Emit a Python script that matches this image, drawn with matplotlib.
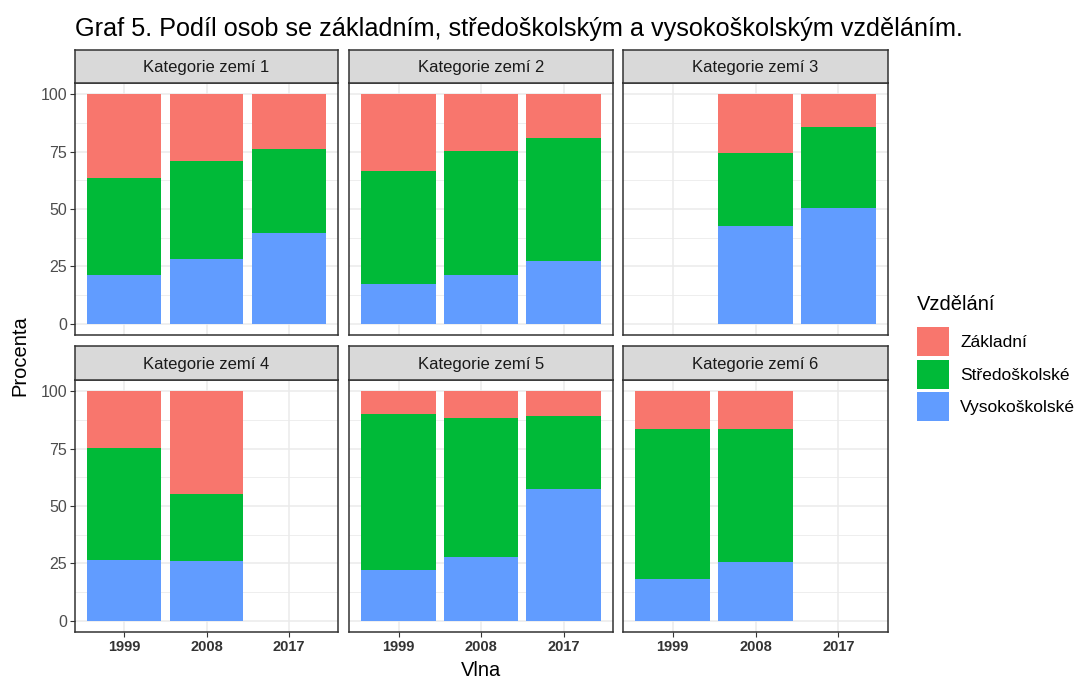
import numpy as np
import matplotlib
matplotlib.use("Agg")
import matplotlib.pyplot as plt
from matplotlib.patches import Patch

# Graf 5 - podíl vzdělání podle kategorie zemí a vlny

vlny = ['1999', '2008', '2017']
kategorie = ['Kategorie zemí 1', 'Kategorie zemí 2', 'Kategorie zemí 3',
             'Kategorie zemí 4', 'Kategorie zemí 5', 'Kategorie zemí 6']
urovne = ['Základní', 'Středoškolské', 'Vysokoškolské']

# procenta, nan = vlna chybí
vysokoskolske = [
    [21.4, 28.3, 39.6],
    [17.2, 21.0, 27.2],
    [np.nan, 42.6, 50.6],
    [26.6, 26.0, np.nan],
    [22.2, 27.8, 57.6],
    [18.0, 25.4, np.nan],
]
stredoskolske = [
    [42.1, 42.7, 36.8],
    [49.3, 54.4, 53.7],
    [np.nan, 32.0, 35.1],
    [48.8, 29.1, np.nan],
    [68.1, 60.7, 31.8],
    [65.4, 58.0, np.nan],
]
zakladni = [
    [36.5, 29.0, 23.6],
    [33.5, 24.6, 19.1],
    [np.nan, 25.4, 14.3],
    [24.6, 44.9, np.nan],
    [9.7, 11.5, 10.6],
    [16.6, 16.6, np.nan],
]

barvy = {'Základní': '#F8766D', 'Středoškolské': '#00BA38', 'Vysokoškolské': '#619CFF'}

plt.rcParams['font.family'] = ['Liberation Sans', 'DejaVu Sans']

W, H = 1078, 680
fig = plt.figure(figsize=(W / 100, H / 100), dpi=100)


def _px(x0, y0, x1, y1):
    return [x0 / W, 1 - y1 / H, (x1 - x0) / W, (y1 - y0) / H]


sloupce = [(75, 338), (349, 613), (623, 888)]
radky = [(50, 83, 335), (346, 380, 632)]

x = np.arange(1, len(vlny) + 1)
for i, nazev in enumerate(kategorie):
    r, c = divmod(i, 3)
    xl, xr = sloupce[c]
    st, pt, pb = radky[r]
    ax = fig.add_axes(_px(xl, pt, xr, pb))
    v = np.array(vysokoskolske[i])
    s = np.array(stredoskolske[i])
    z = np.array(zakladni[i])
    ax.bar(x, v, width=0.9, color=barvy['Vysokoškolské'], zorder=2)
    ax.bar(x, s, width=0.9, bottom=v, color=barvy['Středoškolské'], zorder=2)
    ax.bar(x, z, width=0.9, bottom=v + s, color=barvy['Základní'], zorder=2)
    ax.set_xlim(0.4, 3.6)
    ax.set_ylim(-5, 105)
    ax.set_yticks([0, 25, 50, 75, 100])
    ax.set_yticks([12.5, 37.5, 62.5, 87.5], minor=True)
    ax.set_xticks(x)
    ax.grid(which='major', color='#EBEBEB', linewidth=1.1, zorder=0)
    ax.grid(which='minor', axis='y', color='#EBEBEB', linewidth=0.6, zorder=0)
    ax.set_axisbelow(True)
    for sp in ax.spines.values():
        sp.set_color('#333333')
        sp.set_linewidth(1.1)
    ax.tick_params(which='minor', length=0)
    ax.tick_params(which='major', length=3.5, color='#333333', labelcolor='#4D4D4D', pad=2)
    if c == 0:
        ax.set_yticklabels(['0', '25', '50', '75', '100'], fontsize=11.5)
    else:
        ax.tick_params(axis='y', length=0, labelleft=False)
    if r == 1:
        ax.set_xticklabels(vlny, fontsize=10.5, fontweight='bold', color='#333333')
    else:
        ax.tick_params(axis='x', length=0, labelbottom=False)

    sax = fig.add_axes(_px(xl, st, xr, pt))
    sax.set_facecolor('#D9D9D9')
    sax.set_xticks([])
    sax.set_yticks([])
    for sp in sax.spines.values():
        sp.set_color('#333333')
        sp.set_linewidth(1.1)
    sax.text(0.5, 0.47, nazev, ha='center', va='center', fontsize=12,
             color='#1A1A1A', transform=sax.transAxes)

fig.text(75 / W, 1 - 29 / H, 'Graf 5. Podíl osob se základním, středoškolským a vysokoškolským vzděláním.',
         fontsize=18.2, ha='left', va='center', color='black')
fig.text(481 / W, 1 - 671 / H, 'Vlna', fontsize=14.5, ha='center', va='center', color='black')
fig.text(20 / W, 1 - 356 / H, 'Procenta', fontsize=14.5, ha='center', va='center',
         rotation=90, color='black')

handles = [Patch(facecolor=barvy[u], edgecolor='none', label=u) for u in urovne]
leg = fig.legend(handles=handles, title='Vzdělání', loc='upper left',
                 bbox_to_anchor=(917 / W, 1 - 295 / H), frameon=False,
                 fontsize=12.5, title_fontsize=14.5, handlelength=1.85, handleheight=2.19,
                 handletextpad=0.63, labelspacing=0.2, borderaxespad=0, borderpad=0)
leg._legend_box.align = 'left'
leg._legend_box.sep = 9.5

fig.savefig('out.png', dpi=100)
